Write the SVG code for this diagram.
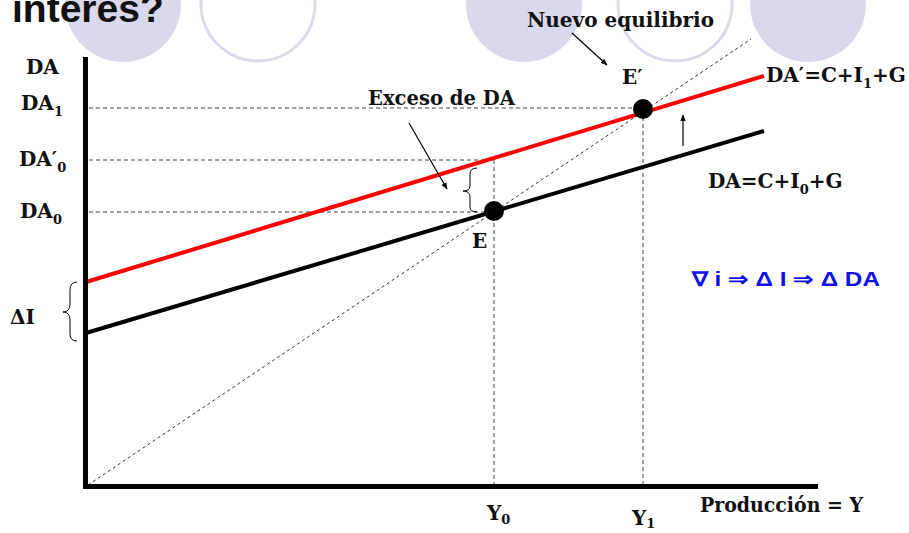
<svg xmlns="http://www.w3.org/2000/svg" width="909" height="533" viewBox="0 0 909 533">
<style>
.bg{fill:#fff}
.cf{fill:#dad9ec}
.co{fill:none;stroke:#dad9ec;stroke-width:3}
.lbl{font-family:"DejaVu Serif","Liberation Serif",serif;font-weight:bold;font-size:20px;fill:#111}
.sub{font-size:13px}
.title{font-family:"Liberation Sans",Arial,sans-serif;font-weight:bold;font-size:39px;fill:#111}
.blue{font-family:"Liberation Sans",Arial,sans-serif;font-weight:bold;font-size:20px;fill:#1010e8}
.axis{stroke:#000;stroke-width:5;fill:none}
.dash{stroke:#444;stroke-width:1;stroke-dasharray:4 3;fill:none}
.dot45{stroke:#333;stroke-width:1;stroke-dasharray:3 3;fill:none}
.thin{stroke:#000;stroke-width:1.2;fill:none}
.brace{stroke:#000;stroke-width:1;fill:none}
</style>
<defs>
<marker id="ah" viewBox="0 0 10 10" refX="9" refY="5" markerWidth="7" markerHeight="7" orient="auto" markerUnits="userSpaceOnUse">
<path d="M0,1 L10,5 L0,9 Z" fill="#000"/>
</marker>
</defs>
<rect class="bg" x="0" y="0" width="909" height="533"/>
<g id="decor">
<circle class="cf" cx="123" cy="4" r="58"/>
<circle class="co" cx="258" cy="4" r="57"/>
<circle class="cf" cx="524" cy="4" r="58"/>
<circle class="co" cx="675" cy="4" r="57"/>
<circle class="cf" cx="808" cy="4" r="58"/>
<text class="title" x="12" y="22">interés?</text>
</g>
<g id="connectors">
<line class="dash" x1="89" y1="108" x2="643" y2="108"/>
<line class="dash" x1="89" y1="160" x2="494" y2="160"/>
<line class="dash" x1="89" y1="212" x2="494" y2="212"/>
<line class="dash" x1="494" y1="160" x2="494" y2="484"/>
<line class="dash" x1="643" y1="110" x2="643" y2="484"/>
<line class="dot45" x1="88" y1="485" x2="751" y2="39"/>
<line x1="86" y1="333" x2="764" y2="131" stroke="#000" stroke-width="4"/>
<line x1="86" y1="282" x2="764" y2="76" stroke="#f00" stroke-width="4"/>
<line class="axis" x1="85.5" y1="57" x2="85.5" y2="489"/>
<line class="axis" x1="83" y1="486.5" x2="818" y2="486.5"/>
<line class="thin" x1="572" y1="33" x2="607" y2="65" marker-end="url(#ah)"/>
<line class="thin" x1="409" y1="123" x2="447" y2="189" marker-end="url(#ah)"/>
<line class="thin" x1="683" y1="146" x2="683" y2="115" marker-end="url(#ah)"/>
<path class="brace" d="M77,282 Q70,282 70,290 L70,304 Q70,312 63,312 Q70,312 70,320 L70,334 Q70,341 77,341"/>
<path class="brace" d="M477,168 Q470,168 470,174 L470,186 Q470,191 463,191 Q470,191 470,197 L470,207 Q470,212 477,212"/>
</g>
<g id="E">
<circle cx="494" cy="211" r="10" fill="#000"/>
<text class="lbl" x="472" y="248">E</text>
</g>
<g id="Eprime">
<circle cx="643" cy="109" r="10" fill="#000"/>
<text class="lbl" x="622" y="84">E′</text>
</g>
<g id="labels">
<text class="lbl" x="26" y="74">DA</text>
<text class="lbl" x="21" y="110">DA<tspan class="sub" dy="6">1</tspan></text>
<text class="lbl" x="19" y="166">DA′<tspan class="sub" dy="6">0</tspan></text>
<text class="lbl" x="20" y="218">DA<tspan class="sub" dy="6">0</tspan></text>
<text class="lbl" x="10" y="324">ΔI</text>
<text class="lbl" x="368" y="105" textLength="147" lengthAdjust="spacingAndGlyphs">Exceso de DA</text>
<text class="lbl" x="527" y="27" textLength="187" lengthAdjust="spacingAndGlyphs">Nuevo equilibrio</text>
<text class="lbl" x="766" y="82">DA′=C+I<tspan class="sub" dy="6">1</tspan><tspan dy="-6">+G</tspan></text>
<text class="lbl" x="708" y="188">DA=C+I<tspan class="sub" dy="6">0</tspan><tspan dy="-6">+G</tspan></text>
<text class="lbl" x="487" y="520">Y<tspan class="sub" dy="4">0</tspan></text>
<text class="lbl" x="632" y="525">Y<tspan class="sub" dy="3">1</tspan></text>
<text class="lbl" x="700" y="512" textLength="163" lengthAdjust="spacingAndGlyphs">Producción = Y</text>
<text class="blue" x="692" y="286" textLength="188" lengthAdjust="spacingAndGlyphs">∇ i ⇒ Δ I ⇒ Δ DA</text>
</g>
</svg>
